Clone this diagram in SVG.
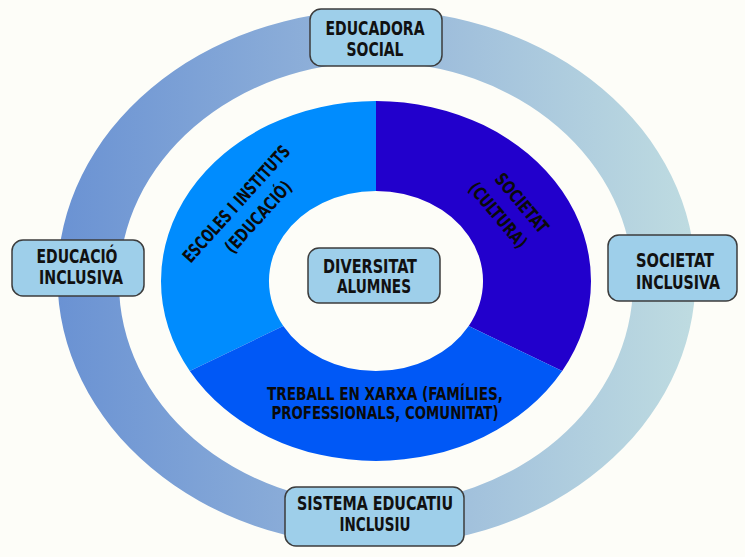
<svg xmlns="http://www.w3.org/2000/svg" width="745" height="557" viewBox="0 0 745 557">
  <defs>
    <linearGradient id="ringGrad" gradientUnits="userSpaceOnUse" x1="57" y1="0" x2="697" y2="0">
      <stop offset="0" stop-color="#6a92d3"/>
      <stop offset="0.5" stop-color="#96b6da"/>
      <stop offset="1" stop-color="#bfdce1"/>
    </linearGradient>
  </defs>
  <style>
    .box { fill: #9ecfea; stroke: #3c3c3c; stroke-width: 1.5; }
    .lbl { font-family: "Liberation Sans Narrow", "DejaVu Sans Condensed", "Liberation Sans", sans-serif; font-weight: bold; font-size: 19px; fill: #111111; text-anchor: middle; }
    .seg { font-family: "Liberation Sans Narrow", "DejaVu Sans Condensed", "Liberation Sans", sans-serif; font-weight: bold; font-size: 18px; fill: #0a0a0a; text-anchor: middle; }
  </style>

  <rect x="0" y="0" width="745" height="557" fill="#fdfdf8"/>

  <g id="ring">
    <path fill="url(#ringGrad)" fill-rule="evenodd"
      d="M 57.5 278 A 319 268 0 1 0 695.5 278 A 319 268 0 1 0 57.5 278 Z
         M 119 283 A 257 221 0 1 0 633 283 A 257 221 0 1 0 119 283 Z"/>
  </g>

  <g id="sector-escoles">
    <path fill="#008cfe" d="M 189.8 371 A 215 180 0 0 1 376 101 L 376 191 A 107 90 0 0 0 283.3 326 Z"/>
    <g transform="translate(241,208) rotate(-48)">
      <text class="seg" font-size="20" x="0" y="0" textLength="150" lengthAdjust="spacingAndGlyphs">ESCOLES I INSTITUTS</text>
      <text class="seg" font-size="20" x="5" y="25" textLength="90" lengthAdjust="spacingAndGlyphs">(EDUCACIÓ)</text>
    </g>
  </g>

  <g id="sector-societat">
    <path fill="#2200cc" d="M 376 101 A 215 180 0 0 1 562.2 371 L 468.7 326 A 107 90 0 0 0 376 191 Z"/>
    <g transform="translate(517,207) rotate(50)">
      <text class="seg" x="0" y="0" textLength="72" lengthAdjust="spacingAndGlyphs">SOCIETAT</text>
      <text class="seg" x="-6" y="26" textLength="80" lengthAdjust="spacingAndGlyphs">(CULTURA)</text>
    </g>
  </g>

  <g id="sector-treball">
    <path fill="#0058f6" d="M 562.2 371 A 215 180 0 0 1 189.8 371 L 283.3 326 A 107 90 0 0 0 468.7 326 Z"/>
    <text class="seg" x="385" y="400" textLength="236" lengthAdjust="spacingAndGlyphs">TREBALL EN XARXA (FAMÍLIES,</text>
    <text class="seg" x="385" y="419" textLength="227" lengthAdjust="spacingAndGlyphs">PROFESSIONALS, COMUNITAT)</text>
  </g>

  <g id="node-educadora">
    <rect class="box" x="310" y="9" width="132" height="57" rx="11"/>
    <text class="lbl" x="375" y="35" textLength="99" lengthAdjust="spacingAndGlyphs">EDUCADORA</text>
    <text class="lbl" x="375" y="56" textLength="57" lengthAdjust="spacingAndGlyphs">SOCIAL</text>
  </g>

  <g id="node-educacio">
    <rect class="box" x="12" y="240" width="132" height="56" rx="11"/>
    <text class="lbl" x="77" y="263" textLength="81" lengthAdjust="spacingAndGlyphs">EDUCACIÓ</text>
    <text class="lbl" x="81" y="284" textLength="84" lengthAdjust="spacingAndGlyphs">INCLUSIVA</text>
  </g>

  <g id="node-societat">
    <rect class="box" x="608" y="235" width="129" height="66" rx="11"/>
    <text class="lbl" x="675" y="267" textLength="78" lengthAdjust="spacingAndGlyphs">SOCIETAT</text>
    <text class="lbl" x="678" y="289" textLength="84" lengthAdjust="spacingAndGlyphs">INCLUSIVA</text>
  </g>

  <g id="node-sistema">
    <rect class="box" x="285" y="487" width="179" height="59" rx="11"/>
    <text class="lbl" x="375" y="510" textLength="156" lengthAdjust="spacingAndGlyphs">SISTEMA EDUCATIU</text>
    <text class="lbl" x="375" y="531" textLength="71" lengthAdjust="spacingAndGlyphs">INCLUSIU</text>
  </g>

  <g id="node-diversitat">
    <rect class="box" x="308" y="248" width="132" height="55" rx="11"/>
    <text class="lbl" x="370" y="273" textLength="94" lengthAdjust="spacingAndGlyphs">DIVERSITAT</text>
    <text class="lbl" x="374" y="293" textLength="74" lengthAdjust="spacingAndGlyphs">ALUMNES</text>
  </g>

  <g id="connectors"></g>
</svg>
